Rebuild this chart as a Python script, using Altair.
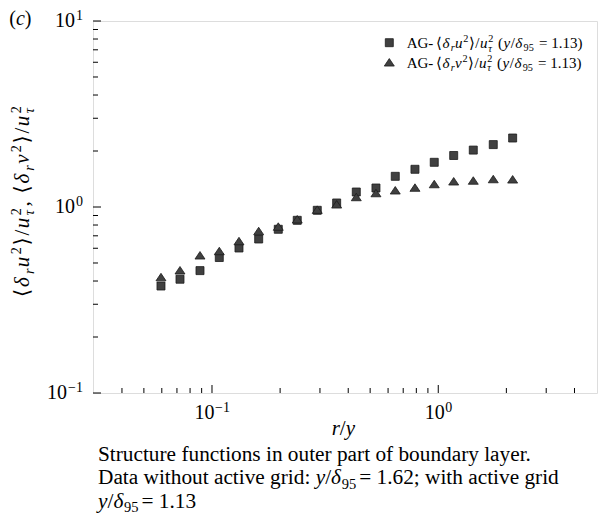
import altair as alt
import pandas as pd

# ---------------- data ----------------
R_OVER_Y = [0.0595, 0.0722, 0.0885, 0.1077, 0.1316, 0.1608, 0.1963, 0.2381, 0.2919,
            0.3556, 0.4342, 0.5305, 0.6456, 0.7889, 0.960, 1.170, 1.428, 1.750, 2.132]
DU2 = [0.376, 0.409, 0.455, 0.535, 0.602, 0.673, 0.759, 0.848, 0.960, 1.051,
       1.204, 1.265, 1.462, 1.595, 1.739, 1.892, 2.023, 2.165, 2.349]
DV2 = [0.420, 0.457, 0.550, 0.580, 0.656, 0.743, 0.785, 0.859, 0.968, 1.034,
       1.132, 1.189, 1.230, 1.272, 1.329, 1.375, 1.388, 1.414, 1.409]

X_MAJOR = [0.1, 1]
X_MAJOR_EXP = ["\u22121", "0"]
X_MINOR = [0.04, 0.05, 0.06, 0.07, 0.08, 0.09, 0.2, 0.3, 0.4, 0.5, 0.6, 0.7, 0.8, 0.9, 2, 3, 4]
Y_MAJOR = [0.1, 1, 10]
Y_MAJOR_EXP = ["\u22121", "0", "1"]
Y_MINOR = [0.2, 0.3, 0.4, 0.5, 0.6, 0.7, 0.8, 0.9, 2, 3, 4, 5, 6, 7, 8, 9]

# rich text pieces: (kind, text, italic)
LEGEND_U = [("n", "AG-", 0), ("n", "\u27e8", 0), ("n", "\u03b4", 1), ("sub", "r", 1), ("n", "u", 1),
            ("sup", "2", 0), ("n", "\u27e9", 0), ("n", "/", 0), ("n", "u", 1), ("ss", "2", "\u03c4"),
            ("n", " (", 0), ("n", "y", 1), ("n", "/", 0), ("n", "\u03b4", 1), ("sub", "95", 0),
            ("n", " = 1.13)", 0)]
LEGEND_V = [("n", "AG-", 0), ("n", "\u27e8", 0), ("n", "\u03b4", 1), ("sub", "r", 1), ("n", "v", 1),
            ("sup", "2", 0), ("n", "\u27e9", 0), ("n", "/", 0), ("n", "u", 1), ("ss", "2", "\u03c4"),
            ("n", " (", 0), ("n", "y", 1), ("n", "/", 0), ("n", "\u03b4", 1), ("sub", "95", 0),
            ("n", " = 1.13)", 0)]
Y_TITLE = [("n", "\u27e8", 0), ("n", "\u03b4", 1), ("sub", "r", 1), ("n", "u", 1), ("sup", "2", 0),
           ("n", "\u27e9", 0), ("n", "/", 0), ("n", "u", 1), ("ss", "2", "\u03c4"), ("n", ", ", 0),
           ("n", "\u27e8", 0), ("n", "\u03b4", 1), ("sub", "r", 1), ("n", "v", 1), ("sup", "2", 0),
           ("n", "\u27e9", 0), ("n", "/", 0), ("n", "u", 1), ("ss", "2", "\u03c4")]
X_TITLE = [("n", "r", 1), ("n", "/", 0), ("n", "y", 1)]
PANEL = [("n", "(", 0), ("n", "c", 1), ("n", ")", 0)]
CAPTION_1 = [("n", "Structure functions in outer part of boundary layer.", 0)]
CAPTION_2 = [("n", "Data without active grid: ", 0), ("n", "y", 1), ("n", "/", 0), ("n", "\u03b4", 1),
             ("sub", "95", 0), ("gap", 3, 0), ("n", "= 1.62; with active grid", 0)]
CAPTION_3 = [("n", "y", 1), ("n", "/", 0), ("n", "\u03b4", 1), ("sub", "95", 0), ("gap", 3, 0),
             ("n", "= 1.13", 0)]

# ---------------- layout ----------------
W, H = 504, 372
OX, OY = 93, 21
FONT = "Liberation Serif, DejaVu Serif, serif"
FILL = "#404040"
EDGE = "#1c1c1c"

REG = {' ': 250, '(': 333, ')': 333, ',': 250, '-': 333, '.': 250, '/': 278, ':': 278, ';': 278,
       '=': 564, '\u2212': 564, '\u27e8': 390, '\u27e9': 390, '\u03b4': 500, '\u03c4': 440,
       'A': 722, 'D': 722, 'G': 722, 'S': 556, 'a': 444, 'b': 500, 'c': 444, 'd': 500, 'e': 444,
       'f': 333, 'g': 500, 'h': 500, 'i': 278, 'l': 278, 'n': 500, 'o': 500, 'p': 500, 'r': 333,
       's': 389, 't': 278, 'u': 500, 'v': 500, 'w': 722, 'y': 500}
ITA = {'c': 444, 'r': 389, 'u': 500, 'v': 444, 'y': 444, '\u03b4': 500, '\u03c4': 440}


def tw(text, italic, size):
    tbl = ITA if italic else REG
    return sum(tbl.get(ch, 500) for ch in text) / 1000.0 * size


def rich(segs, x0, y0, size, stretch=1.0, angle=0):
    recs = []
    pos = 0.0
    small = size * 0.68

    def place(t, it, sz, along, off):
        lead = len(t) - len(t.lstrip(" "))
        if lead:
            along += tw(" " * lead, it, sz) * stretch
            t = t.lstrip(" ")
        t = t.rstrip(" ")
        if not t:
            return
        if angle == 0:
            px, py = x0 + along, y0 + off
        else:
            px, py = x0 + off, y0 - along
        recs.append(dict(t=t, it=it, sz=sz, x=px - OX, y=py - OY, angle=angle))

    for kind, t, it in segs:
        if kind == "gap":
            pos += t
        elif kind == "n":
            place(t, it, size, pos, 0)
            pos += tw(t, it, size) * stretch
        elif kind == "sup":
            place(t, it, small, pos, -0.38 * size)
            pos += tw(t, it, small) * stretch
        elif kind == "sub":
            place(t, it, small, pos, 0.22 * size)
            pos += tw(t, it, small) * stretch
        elif kind == "ss":
            place(t, 0, small, pos, -0.38 * size)
            place(it, 1, small, pos, 0.25 * size)
            pos += max(tw(t, 0, small), tw(it, 1, small)) * stretch
    return recs


def text_layers(recs):
    out = []
    for r in recs:
        out.append(
            alt.Chart(pd.DataFrame({"t": [r["t"]]}))
            .mark_text(align="left", baseline="alphabetic", font=FONT, fontSize=r["sz"],
                       fontStyle="italic" if r["it"] else "normal", angle=r["angle"], color="black")
            .encode(text="t:N", x=alt.value(r["x"]), y=alt.value(r["y"]))
        )
    return out


xs = alt.Scale(type="log", domain=[0.02979, 5.03], nice=False)
ys = alt.Scale(type="log", domain=[0.1, 10], nice=False)

df = pd.DataFrame({"r": R_OVER_Y, "u": DU2, "v": DV2})

squares = alt.Chart(df).mark_point(shape="square", filled=True, size=64, fill=FILL, stroke=EDGE,
                                   strokeWidth=0.8, opacity=1).encode(
    x=alt.X("r:Q", scale=xs, axis=None), y=alt.Y("u:Q", scale=ys, axis=None))
TRI = "M-1,0.75L1,0.75L0,-0.75Z"
triangles = alt.Chart(df).mark_point(shape=TRI, filled=True, size=100, fill=FILL, stroke=EDGE,
                                     strokeWidth=0.8, opacity=1).encode(
    x=alt.X("r:Q", scale=xs, axis=None), y=alt.Y("v:Q", scale=ys, axis=None))

# inward ticks
ytick_major = alt.Chart(pd.DataFrame({"v": Y_MAJOR})).mark_rule(color="black", strokeWidth=1).encode(
    y=alt.Y("v:Q", scale=ys, axis=None), x=alt.value(0), x2=alt.value(8))
ytick_minor = alt.Chart(pd.DataFrame({"v": Y_MINOR})).mark_rule(color="black", strokeWidth=1).encode(
    y=alt.Y("v:Q", scale=ys, axis=None), x=alt.value(0), x2=alt.value(5))
xtick_major = alt.Chart(pd.DataFrame({"v": X_MAJOR})).mark_rule(color="black", strokeWidth=1).encode(
    x=alt.X("v:Q", scale=xs, axis=None), y=alt.value(H), y2=alt.value(H - 8))
xtick_minor = alt.Chart(pd.DataFrame({"v": X_MINOR})).mark_rule(color="black", strokeWidth=1).encode(
    x=alt.X("v:Q", scale=xs, axis=None), y=alt.value(H), y2=alt.value(H - 5))

# tick labels: "10" plus exponent
LAB = 20
EXP = 14
label_layers = []
for v, e in zip(Y_MAJOR, Y_MAJOR_EXP):
    d = pd.DataFrame({"v": [v], "b": ["10"], "e": [e]})
    ew = tw(e, 0, EXP)
    label_layers.append(alt.Chart(d).mark_text(align="right", baseline="alphabetic", font=FONT,
                                               fontSize=EXP, dy=-1, color="black").encode(
        y=alt.Y("v:Q", scale=ys, axis=None), x=alt.value(83 - OX), text="e:N"))
    label_layers.append(alt.Chart(d).mark_text(align="right", baseline="alphabetic", font=FONT,
                                               fontSize=LAB, dy=6, color="black").encode(
        y=alt.Y("v:Q", scale=ys, axis=None), x=alt.value(83 - OX - ew - 1), text="b:N"))
for v, e in zip(X_MAJOR, X_MAJOR_EXP):
    d = pd.DataFrame({"v": [v], "b": ["10"], "e": [e]})
    ew = tw(e, 0, EXP)
    shift = (LAB - ew) / 2.0
    label_layers.append(alt.Chart(d).mark_text(align="right", baseline="alphabetic", font=FONT,
                                               fontSize=LAB, dx=shift, color="black").encode(
        x=alt.X("v:Q", scale=xs, axis=None), y=alt.value(419.3 - OY), text="b:N"))
    label_layers.append(alt.Chart(d).mark_text(align="left", baseline="alphabetic", font=FONT,
                                               fontSize=EXP, dx=shift + 0.5, color="black").encode(
        x=alt.X("v:Q", scale=xs, axis=None), y=alt.value(411.7 - OY), text="e:N"))

# legend symbols
leg_sq = alt.Chart(pd.DataFrame({"k": ["u"]})).mark_point(
    shape="square", filled=True, size=64, fill=FILL, stroke=EDGE, strokeWidth=0.8, opacity=1).encode(
    x=alt.value(389.3 - OX), y=alt.value(42.7 - OY))
leg_tri = alt.Chart(pd.DataFrame({"k": ["v"]})).mark_point(
    shape=TRI, filled=True, size=100, fill=FILL, stroke=EDGE, strokeWidth=0.8, opacity=1).encode(
    x=alt.value(389.3 - OX), y=alt.value(62.3 - OY))

texts = []
texts += rich(LEGEND_U, 406.7, 48.0, 15, stretch=1.1)
texts += rich(LEGEND_V, 406.7, 67.5, 15, stretch=1.1)
texts += rich(Y_TITLE, 29, 297, 21, stretch=1.23, angle=270)
texts += rich(X_TITLE, 331.7, 435, 21)
texts += rich(PANEL, 9.3, 25, 20)
texts += rich(CAPTION_1, 98, 460.7, 21.3)
texts += rich(CAPTION_2, 98, 484.3, 21.3)
texts += rich(CAPTION_3, 98, 507.7, 21.3)

chart = alt.layer(
    ytick_minor, ytick_major, xtick_minor, xtick_major,
    squares, triangles, leg_sq, leg_tri,
    *label_layers, *text_layers(texts)
).properties(
    width=W, height=H,
    padding={"left": OX - 8, "top": OY - 8, "right": 2, "bottom": 126},
    autosize=alt.AutoSizeParams(type="none"),
).configure_view(stroke="black", strokeWidth=2.5).configure(background="white")

chart.save("out.html", embed_options={"renderer": "svg", "actions": False})
